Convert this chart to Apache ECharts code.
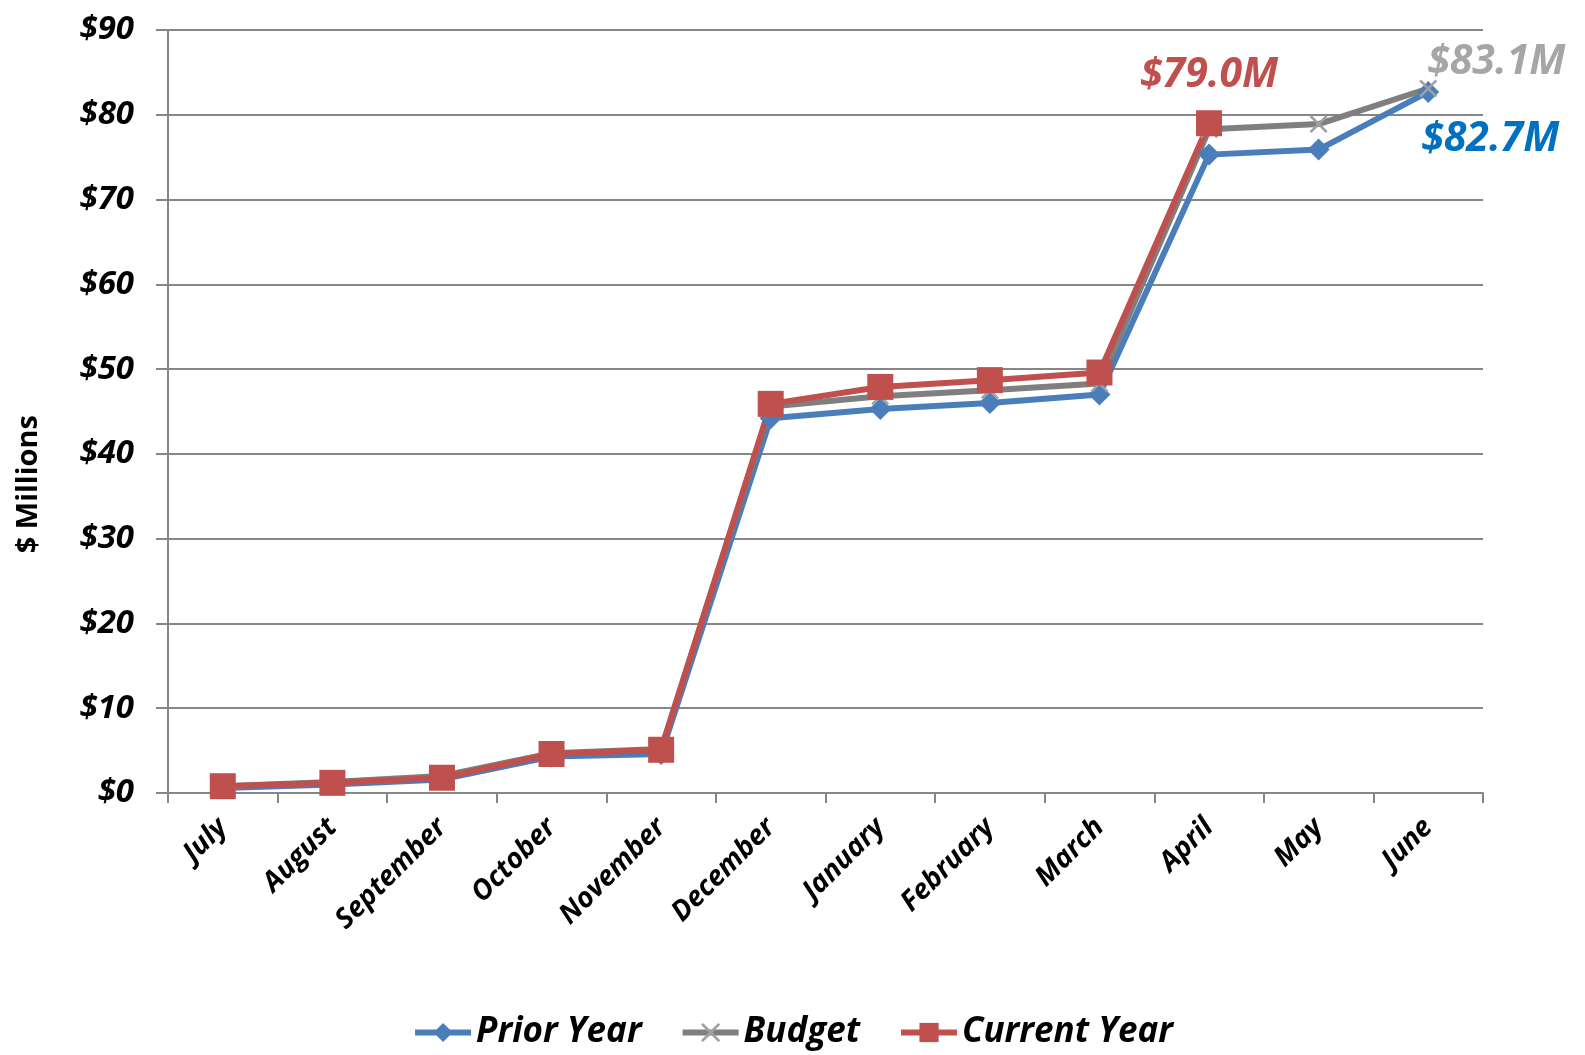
<!DOCTYPE html>
<html>
<head>
<meta charset="utf-8">
<script src="https://cdn.jsdelivr.net/npm/echarts@6/dist/echarts.min.js"></script>
<style>
  html, body { margin: 0; padding: 0; background: #fff; }
  #chart { width: 1585px; height: 1055px; }
</style>
</head>
<body>
<div id="chart"></div>
<script>
const months = ["July", "August", "September", "October", "November", "December",
  "January", "February", "March", "April", "May", "June"];
const priorYear = [0.6, 1.0, 1.6, 4.3, 4.6, 44.2, 45.3, 46.0, 47.0, 75.3, 75.9, 82.7];
const budget = [0.8, 1.3, 2.0, 4.7, 5.2, 45.6, 46.8, 47.5, 48.3, 78.3, 78.9, 83.1];
const currentYear = [0.8, 1.2, 1.8, 4.6, 5.1, 45.9, 47.9, 48.7, 49.6, 79.0];

const font = "Open Sans";
const crossPath = "path://M0,1L1,0L5,4L9,0L10,1L6,5L10,9L9,10L5,6L1,10L0,9L4,5Z";

const chart = echarts.init(document.getElementById("chart"));

// label only on the last point of each series
function withLastLabel(values, label) {
  return values.map((v, i) => i === values.length - 1 ? { value: v, label } : v);
}

const option = {
  animation: false,
  grid: { left: 168, right: 102, top: 30, bottom: 262 },
  graphic: [{
    type: "text",
    left: 14,
    top: 415,
    rotation: Math.PI / 2,
    style: {
      text: "$ Millions",
      fontFamily: font, fontSize: 29, fontWeight: "bold", fill: "#000"
    }
  }],
  legend: {
    bottom: 0,
    left: "center",
    itemWidth: 56,
    itemHeight: 24,
    itemGap: 38,
    lineStyle: { width: 6 },
    textStyle: { fontFamily: font, fontSize: 35, fontWeight: "bold", fontStyle: "italic", color: "#000" },
    data: ["Prior Year", "Budget", "Current Year"]
  },
  xAxis: {
    type: "category",
    data: months,
    boundaryGap: true,
    axisLine: { lineStyle: { color: "#868686", width: 2 } },
    axisTick: { show: true, length: 10, lineStyle: { color: "#868686", width: 2 } },
    axisLabel: {
      rotate: 45, interval: 0, margin: 30,
      fontFamily: font, fontSize: 28, fontWeight: "bold", fontStyle: "italic", color: "#000"
    }
  },
  yAxis: {
    type: "value",
    min: 0, max: 90, interval: 10,
    axisLine: { show: true, lineStyle: { color: "#868686", width: 2 } },
    axisTick: { show: true, length: 12, lineStyle: { color: "#868686", width: 2 } },
    splitLine: { lineStyle: { color: "#868686", width: 2 } },
    axisLabel: {
      margin: 34,
      formatter: v => "$" + v,
      fontFamily: font, fontSize: 33, fontWeight: "bold", fontStyle: "italic", color: "#000"
    }
  },
  series: [
    {
      name: "Prior Year",
      type: "line",
      data: withLastLabel(priorYear, {
        show: true, position: "bottom", distance: 16, offset: [62, 0],
        formatter: "$82.7M", color: "#0070c0",
        fontFamily: font, fontSize: 41, fontWeight: "bold", fontStyle: "italic"
      }),
      symbol: "diamond", symbolSize: 22,
      lineStyle: { width: 6, color: "#4a7ebb" },
      itemStyle: { color: "#4a7ebb" }
    },
    {
      name: "Budget",
      type: "line",
      data: withLastLabel(budget, {
        show: true, position: "right", distance: 0, offset: [-10, -26],
        formatter: "$83.1M", color: "#a6a6a6",
        fontFamily: font, fontSize: 41, fontWeight: "bold", fontStyle: "italic"
      }),
      symbol: crossPath, symbolSize: 18,
      lineStyle: { width: 6, color: "#7f7f7f" },
      itemStyle: { color: "#a0a0a0" }
    },
    {
      name: "Current Year",
      type: "line",
      data: withLastLabel(currentYear, {
        show: true, position: "top", distance: 14,
        formatter: "$79.0M", color: "#c0504d",
        fontFamily: font, fontSize: 41, fontWeight: "bold", fontStyle: "italic"
      }),
      symbol: "rect", symbolSize: 26,
      lineStyle: { width: 6, color: "#c0504d" },
      itemStyle: { color: "#c0504d" }
    }
  ]
};

chart.setOption(option);
</script>
</body>
</html>
